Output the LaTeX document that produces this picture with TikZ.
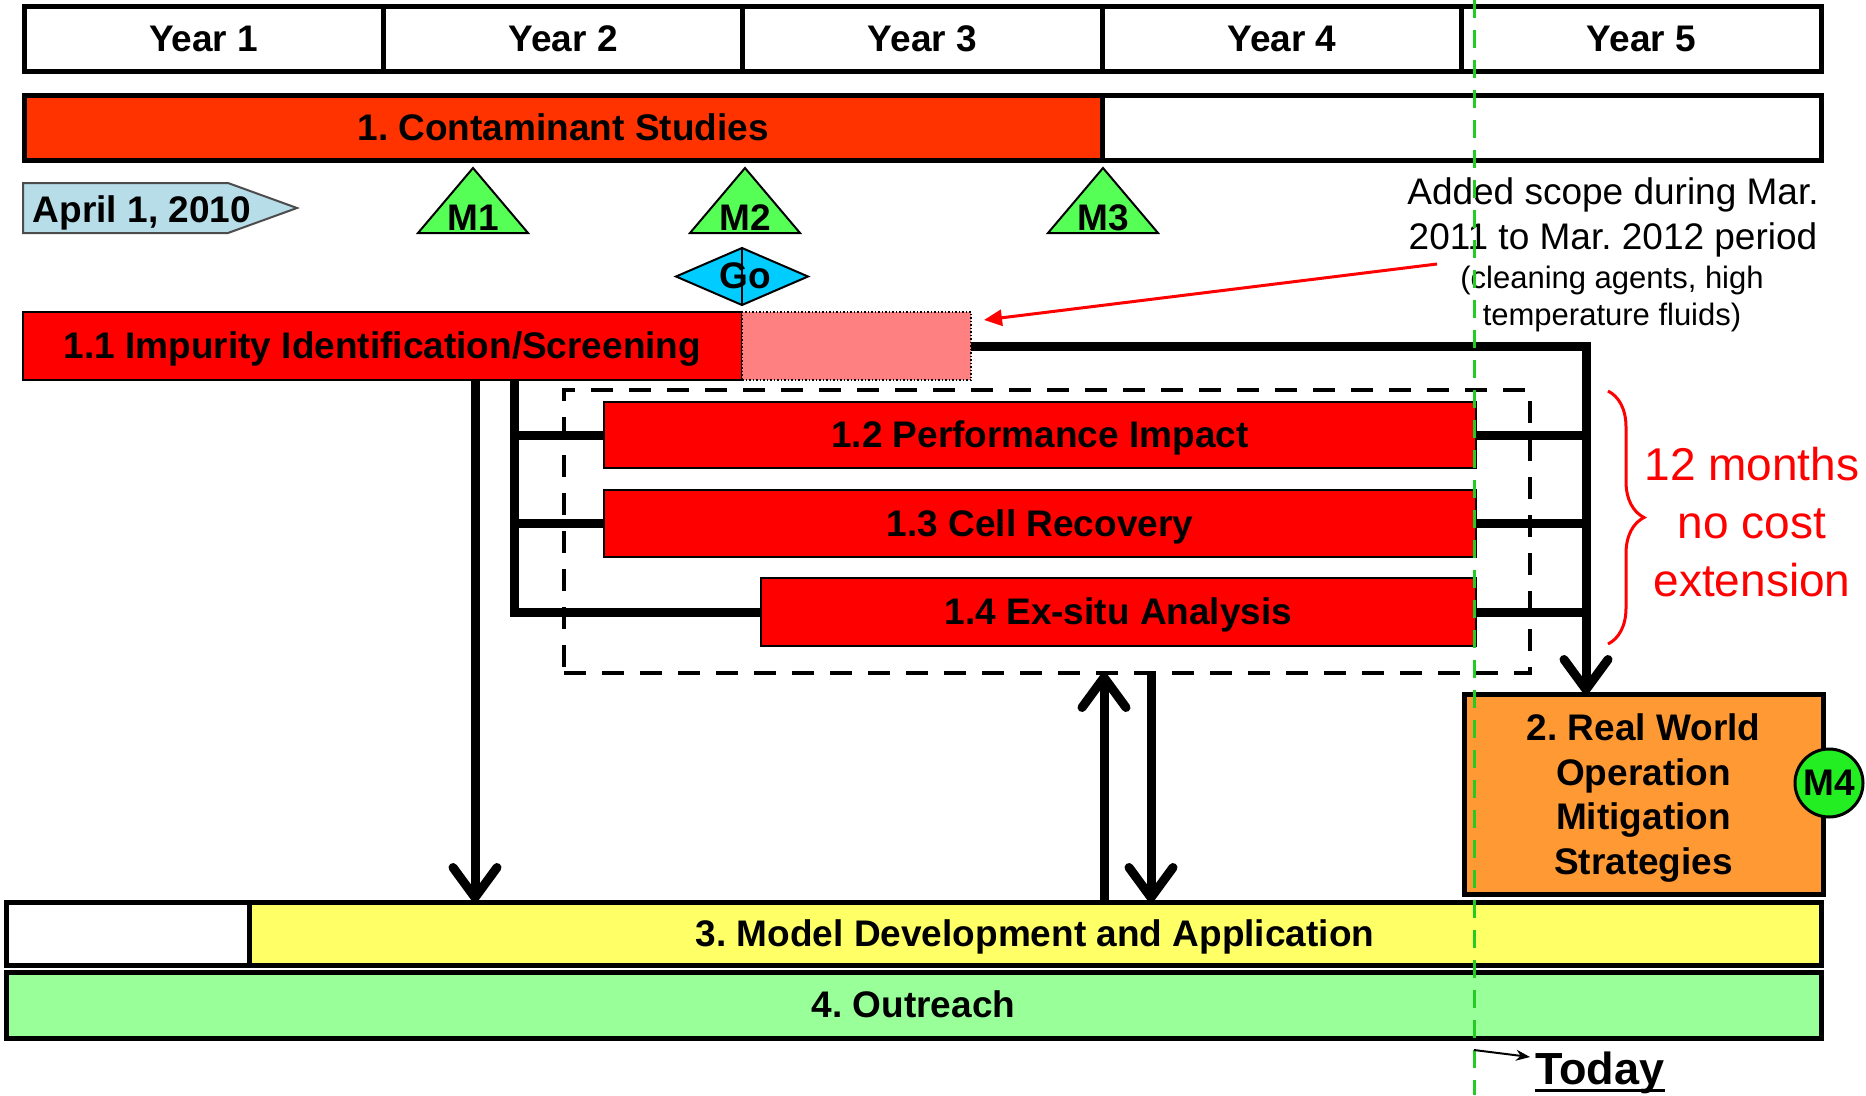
\documentclass[tikz,border=0pt]{standalone}
\usepackage{fontspec}
\setmainfont{Liberation Sans}
\usetikzlibrary{arrows.meta,decorations.pathreplacing}
\definecolor{contred}{HTML}{FF3300}
\definecolor{barred}{HTML}{FF0000}
\definecolor{pinkadd}{HTML}{FF8080}
\definecolor{msgreen}{HTML}{55FF55}
\definecolor{gocyan}{HTML}{00CCFF}
\definecolor{aprblue}{HTML}{B7DDE8}
\definecolor{modyellow}{HTML}{FFFF66}
\definecolor{outgreen}{HTML}{99FF99}
\definecolor{rworange}{HTML}{FF9933}
\definecolor{mfourgreen}{HTML}{22EE22}
\definecolor{todaygreen}{HTML}{22CC22}
\newcommand\labfont{\fontsize{37}{44.7}\selectfont\bfseries}
\newcommand\txtfont{\fontsize{37}{45}\selectfont}
\newcommand\smallfont{\fontsize{31}{37}\selectfont}
\newcommand\bigredfont{\fontsize{46}{58}\selectfont}
\frenchspacing
\begin{document}
\begin{tikzpicture}[x=1pt,y=-1pt,
  box/.style={draw=black, inner sep=0pt, outer sep=0pt, font=\labfont, align=center},
  onel/.style={text height=25pt, text depth=0pt},
  heavy/.style={box, line width=5pt},
  light/.style={box, line width=2pt},
  conn/.style={line width=9pt},
  arr/.style={-{Straight Barb[length=30pt,width=44pt,round]}},
  tri/.style={draw=black, fill=msgreen, line width=2pt},
  mlab/.style={font=\labfont, anchor=base, inner sep=0pt},
  scopetxt/.style={anchor=base, inner sep=0pt}
]
\useasboundingbox (0,0) rectangle (1866,1095);
\fill[white] (0,0) rectangle (1866,1095);

% Year header
\node[heavy,onel,minimum width=359.4pt,minimum height=65pt] (y1) at (203.7,38.5) {Year 1};
\node[heavy,onel,minimum width=359.4pt,minimum height=65pt] (y2) at (563.1,38.5) {Year 2};
\node[heavy,onel,minimum width=359.4pt,minimum height=65pt] (y3) at (922.5,38.5) {Year 3};
\node[heavy,onel,minimum width=359.4pt,minimum height=65pt] (y4) at (1281.9,38.5) {Year 4};
\node[heavy,onel,minimum width=359.4pt,minimum height=65pt] (y5) at (1641.3,38.5) {Year 5};

% 1. Contaminant studies
\node[heavy,onel,fill=contred,minimum width=1078.2pt,minimum height=65pt] (c1) at (563.1,127.5) {1. Contaminant Studies};
\node[heavy,minimum width=718.8pt,minimum height=65pt] (c1w) at (1461.6,127.5) {};

% April arrow
\filldraw[fill=aprblue,draw=black!70,line width=2pt] (23,183) -- (228,183) -- (297,208) -- (228,233) -- (23,233) -- cycle;
\node[mlab] (apr) at (142,222) {April 1, 2010};

% Milestones
\draw[tri] (418,233) -- (473,168) -- (528,233) -- cycle;
\node[mlab] (m1) at (473,230) {M1};
\draw[tri] (690,233) -- (745,168) -- (800,233) -- cycle;
\node[mlab] (m2) at (745,230) {M2};
\draw[tri] (1048,233) -- (1103,168) -- (1158,233) -- cycle;
\node[mlab] (m3) at (1103,230) {M3};

% Go diamond
\filldraw[fill=gocyan,draw=black,line width=2pt] (676,276.5) -- (742,248) -- (808,276.5) -- (742,305) -- cycle;
\draw[line width=1.5pt] (742,248) -- (742,305);
\node[mlab] (go) at (745,288) {Go};

% Dashed box
\node[draw=black,line width=4pt,dash pattern=on 22pt off 16pt,inner sep=0pt,outer sep=0pt,minimum width=966pt,minimum height=283pt] (dbox) at (1047,531.5) {};

% Task bars
\node[light,onel,fill=barred,minimum width=719pt,minimum height=68pt] (b11) at (382.5,346) {1.1 Impurity Identification/Screening};
\node[draw=black,line width=1.5pt,dotted,fill=pinkadd,inner sep=0pt,outer sep=0pt,minimum width=229pt,minimum height=68pt] (pink) at (856.5,346) {};
\node[light,onel,fill=barred,minimum width=872pt,minimum height=66pt] (b12) at (1040,435) {1.2 Performance Impact};
\node[light,onel,fill=barred,minimum width=872pt,minimum height=67pt] (b13) at (1040,523.5) {1.3 Cell Recovery};
\node[light,onel,fill=barred,minimum width=715pt,minimum height=68pt] (b14) at (1118.5,612) {1.4 Ex-situ Analysis};

% Bottom bars
\node[heavy,minimum width=243pt,minimum height=63pt] (b3w) at (127.5,933.5) {};
\node[heavy,onel,fill=modyellow,minimum width=1572pt,minimum height=63pt] (b3) at (1035,933.5) {3. Model Development and Application};
\node[heavy,onel,fill=outgreen,minimum width=1815pt,minimum height=66pt] (b4) at (913.5,1005) {4. Outreach};

% Real world box
\node[heavy,fill=rworange,minimum width=359pt,minimum height=200pt] (rw) at (1643.5,794) {\rule{0pt}{35pt}2. Real World\\Operation\\Mitigation\\Strategies};
\node[circle,draw=black,line width=3pt,fill=mfourgreen,inner sep=0pt,minimum size=68pt,font=\labfont] (m4) at (1829,783) {M4};

% Connector coordinates
\coordinate (xa) at (475,0);
\coordinate (xl) at (514,0);
\coordinate (xr) at (1586,0);
\coordinate (xu) at (1104,0);
\coordinate (xd) at (1151,0);

% Left connectors
\draw[conn,arr] (b11.south -| xa) -- (b3.north -| xa);
\draw[conn] (b11.south -| xl) |- (b14.west);
\draw[conn] (b12.west -| xl) -- (b12.west);
\draw[conn] (b13.west -| xl) -- (b13.west);

% Right connectors
\draw[conn,arr] (pink.east) -| (rw.north -| xr);
\draw[conn] (b12.east) -- (b12.east -| xr);
\draw[conn] (b13.east) -- (b13.east -| xr);
\draw[conn] (b14.east) -- (b14.east -| xr);

% Model <-> dashed box
\draw[conn,arr] (b3.north -| xu) -- (dbox.south -| xu);
\draw[conn,arr] (dbox.south -| xd) -- (b3.north -| xd);

% Added scope annotation
\node[scopetxt,font=\txtfont] (sc1) at (1613,204) {Added scope during Mar.};
\node[scopetxt,font=\txtfont] (sc2) at (1613,249) {2011 to Mar. 2012 period};
\node[scopetxt,font=\smallfont] (sc3) at (1612,288) {(cleaning agents, high};
\node[scopetxt,font=\smallfont] (sc4) at (1612,325) {temperature fluids)};
\coordinate (rs) at (1437,264);
\coordinate (rt) at (984,320);
\draw[red,line width=3pt,-{Triangle[length=18pt,width=16pt]}] (rs) -- (rt);

% Brace and extension note
\draw[red,line width=3pt,decorate,decoration={brace,amplitude=36pt}] (1608,391) -- (1608,644);
\node[red,font=\bigredfont,align=center,inner sep=0pt] (ext) at (1752,522) {12 months\\no cost\\extension};

% Today line
\coordinate (gtop) at (1474,0);
\coordinate (gbot) at (1474,1095);
\draw[todaygreen,line width=3pt,dash pattern=on 18pt off 12pt] (gtop) -- (gbot);
\node[font=\fontsize{45}{50}\selectfont\bfseries,anchor=base west,inner sep=0pt] (today) at (1535,1084) {Today};
\draw[line width=3pt] ([yshift=-6pt]today.base west) -- ([yshift=-6pt]today.base east);
\coordinate (tl) at (1474,1050);
\coordinate (tt) at (1530,1057);
\draw[line width=2pt,-{Stealth[length=14pt,width=11pt]}] (tl) -- (tt);
\end{tikzpicture}
\end{document}
